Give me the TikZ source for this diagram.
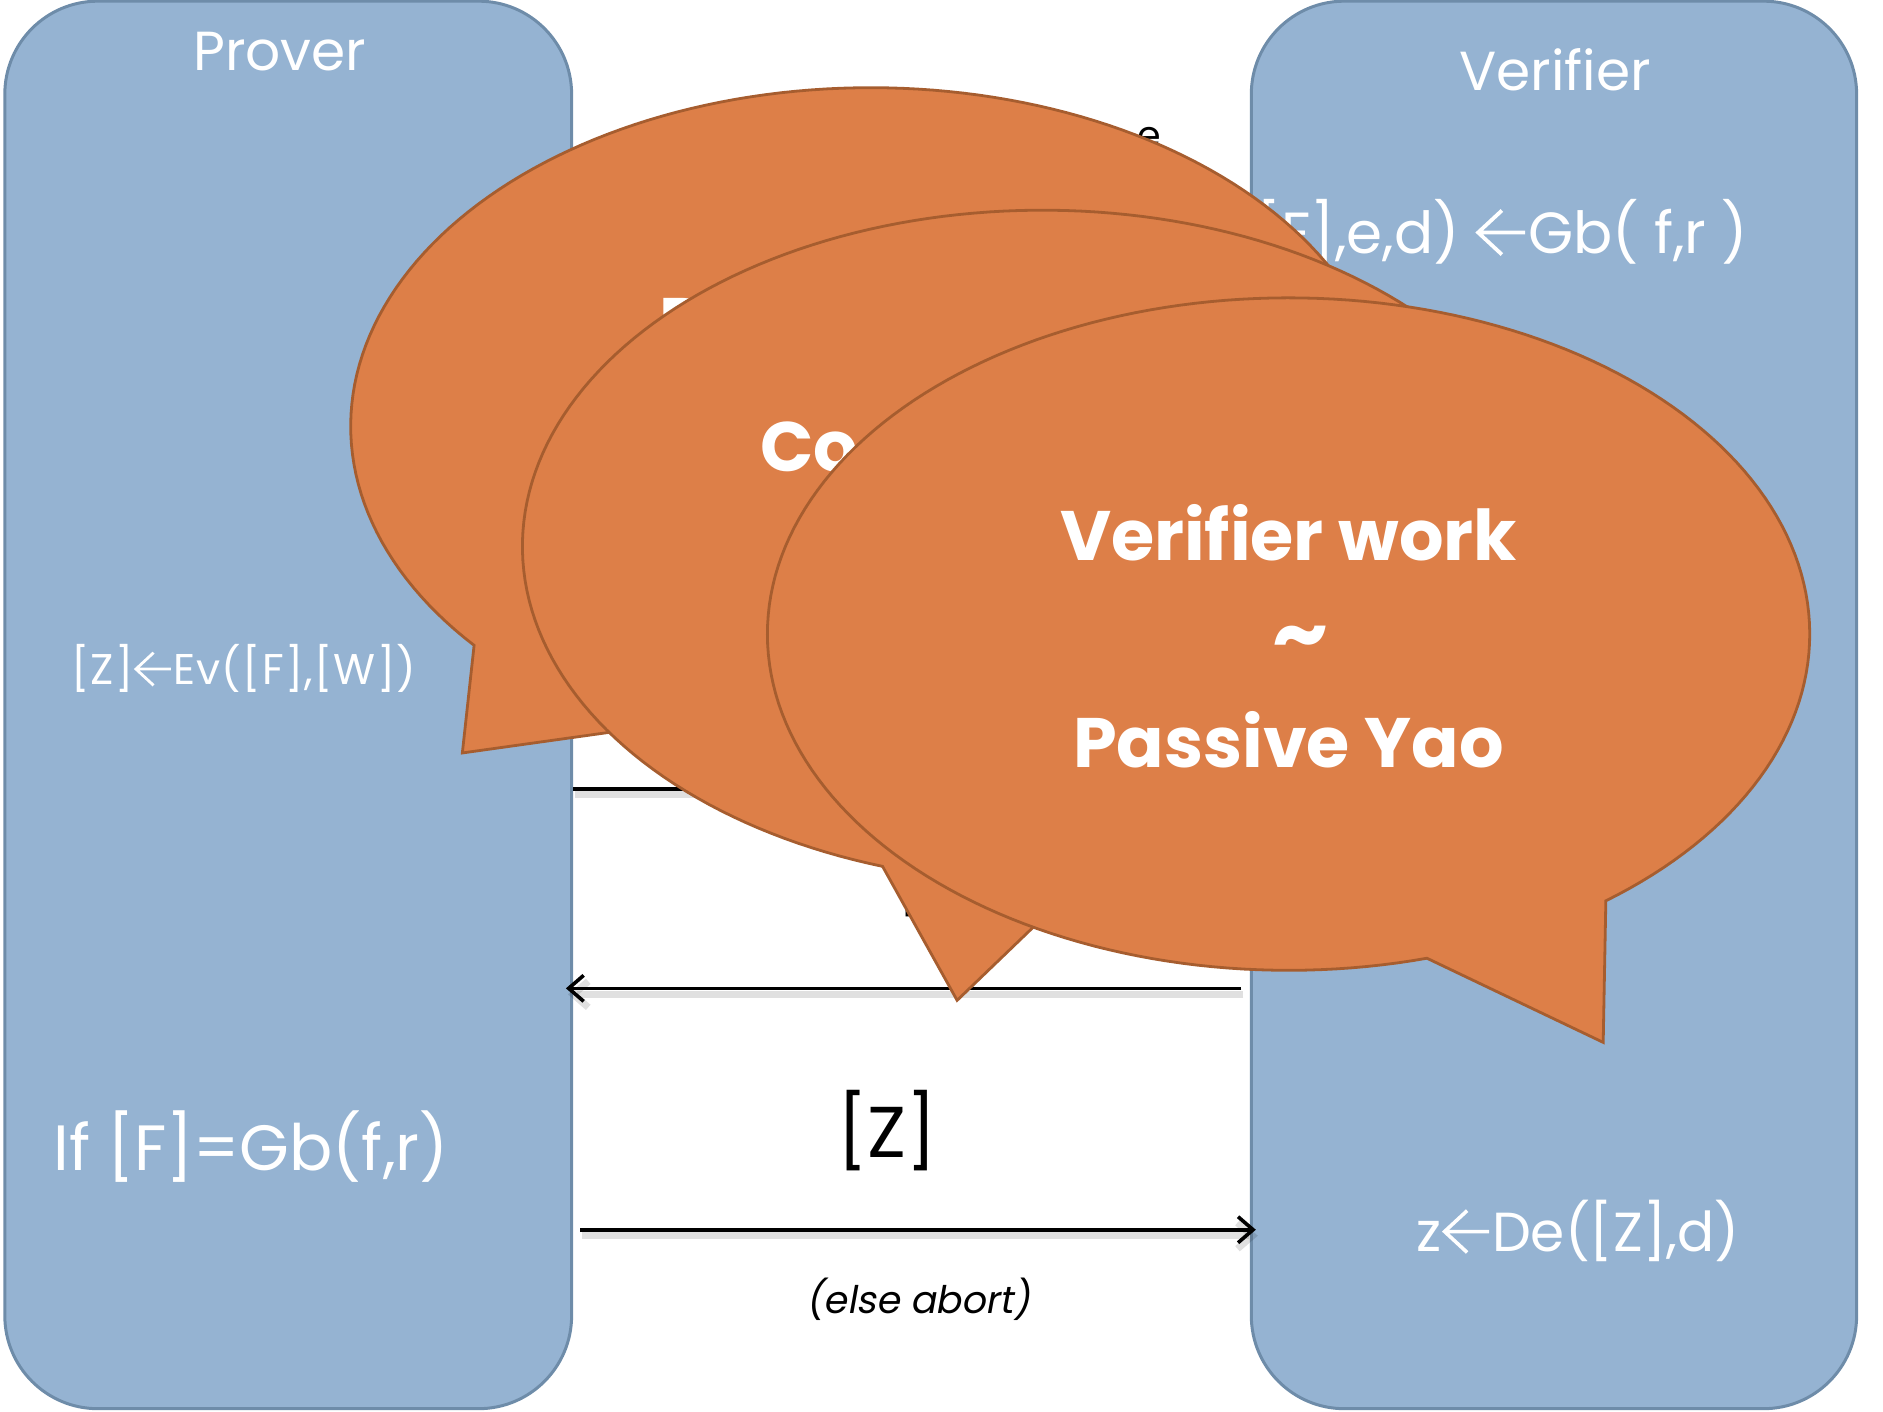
\documentclass[tikz,border=0pt]{standalone}
\usepackage{fontspec}
\setmainfont{Poppins}
\newfontfamily\slantfont[FakeSlant=0.18]{Poppins}
\newfontfamily\spacedfont[LetterSpace=3]{Poppins}
\usetikzlibrary{arrows.meta,calc}

\definecolor{partyfill}{HTML}{95B3D2}
\definecolor{partyline}{HTML}{6E8CA9}
\definecolor{bubblefill}{HTML}{DD7F48}
\definecolor{bubbleline}{HTML}{A65D2F}

% assignment arrow used inside the formulas, drawn to the current font size
\newcommand\getsarrow{\hspace{0.02em}\tikz[baseline=0pt, x=1em, y=1em]{%
  \draw[white, line width=0.065em, line cap=butt, line join=miter]
    (0.44,0.74) -- (0.03,0.36) -- (0.44,-0.02)
    (0.03,0.36) -- (0.84,0.36);}\hspace{0.02em}}

\tikzset{
  party/.style={draw=partyline, fill=partyfill, line width=3pt,
    rounded corners=93pt, inner sep=0pt},
  wtext/.style={text=white, inner sep=0pt},
  btext/.style={text=white, inner sep=0pt, font=\bfseries\fontsize{70}{84}\selectfont},
  msg/.style={line width=3.6pt, -{Straight Barb[length=15pt,width=26pt]}},
  msgshade/.style={draw=black, opacity=0.12, line width=7pt,
    -{Straight Barb[length=15pt,width=26pt]}},
  bubble/.style={draw=bubbleline, fill=bubblefill, line width=2.8pt, line join=miter},
}

\begin{document}
\begin{tikzpicture}[x=1.2009pt, y=-1.2009pt]
\useasboundingbox (0,0) rectangle (1568,1175);

% the two parties
\node[party, minimum width=566.8pt, minimum height=1407.5pt] (prover) at (240,587) {};
\node[party, minimum width=605.3pt, minimum height=1407.5pt] (verifier) at (1294,587) {};

\node[wtext, font=\fontsize{55}{66}\selectfont, anchor=base] (ptitle) at (233,59) {Prover};
\node[wtext, font=\fontsize{55}{66}\selectfont, anchor=base] (vtitle) at (1295,75.5) {Verifier};
\node[wtext, font=\fontsize{58}{70}\selectfont, anchor=base east] (garble) at (1456,211)
  {([F],e,d) \getsarrow Gb( f,r )};
\node[wtext, font=\spacedfont\fontsize{43}{50}\selectfont, anchor=base] (evalstep) at (203,570)
  {[Z]\getsarrow Ev([F],[W])};
\node[wtext, font=\fontsize{64}{76}\selectfont, anchor=base] (check) at (209,975)
  {If [F]=Gb(f,r)};
\node[wtext, font=\fontsize{55}{66}\selectfont, anchor=base] (decode) at (1314,1042)
  {z\getsarrow De([Z],d)};

% messages
\coordinate (row1) at (0,657);
\coordinate (row2) at (0,823);
\coordinate (row3) at (0,1024);

\begin{scope}[transform canvas={xshift=2pt,yshift=-6pt}]
  \draw[msgshade] (prover.east |- row1) -- (verifier.west |- row1);
  \draw[msgshade] ($(verifier.west |- row2)+(-7,0)$) -- ($(prover.east |- row2)+(-6,0)$);
  \draw[msgshade] ($(prover.east |- row3)+(6,0)$) -- ($(verifier.west |- row3)+(5,0)$);
\end{scope}
\draw[msg] (prover.east |- row1) -- (verifier.west |- row1);
\draw[msg] ($(verifier.west |- row2)+(-7,0)$) -- ($(prover.east |- row2)+(-6,0)$);
\draw[msg] ($(prover.east |- row3)+(6,0)$) -- ($(verifier.west |- row3)+(5,0)$);

\node[font=\fontsize{38}{46}\selectfont, anchor=base, inner sep=0pt] (efrag) at (957,124) {e};
\node[font=\fontsize{72}{86}\selectfont, anchor=south west, inner sep=0pt] (bfrag) at (746,764) {[};
\node[font=\fontsize{72}{86}\selectfont, anchor=base, inner sep=0pt] (zlabel) at (739,963.5) {[Z]};
\node[font=\slantfont\fontsize{38}{46}\selectfont, anchor=base, inner sep=0pt] (abort) at (765,1093.5)
  {(else abort)};

% speech bubbles, back to front
\draw[bubble] plot[domain=139.7:476.8, samples=200, variable=\t]
  ({725+433*cos(\t)},{355+282*sin(\t)}) -- (385,627) -- cycle;
\node[btext, anchor=north west] (pfrag) at (549,248) {P};

\draw[bubble] plot[domain=107.9:445.8, samples=200, variable=\t]
  ({868+433*cos(\t)},{455+280*sin(\t)}) -- (797,833) -- cycle;
\node[btext, anchor=base west] (cofrag) at (633,393) {Co};

\draw[bubble] plot[domain=74.6:412.5, samples=200, variable=\t]
  ({1073+434*cos(\t)},{528+280*sin(\t)}) -- (1335,868) -- cycle;
\node[btext, anchor=base] (bt1) at (1073,467) {Verifier work};
\node[btext, font=\bfseries\fontsize{88}{90}\selectfont, anchor=center] (bt2) at (1083,537) {\char"007E};
\node[btext, anchor=base] (bt3) at (1073,639) {Passive Yao};
\end{tikzpicture}
\end{document}
